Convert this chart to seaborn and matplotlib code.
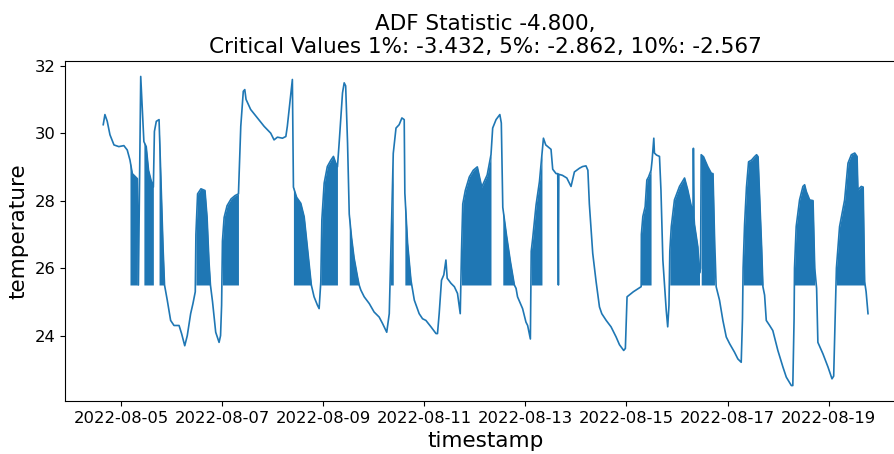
import numpy as np
import pandas as pd
import matplotlib
matplotlib.use("Agg")
import matplotlib.pyplot as plt
import seaborn as sns

# ADF test summary shown in the title
adf_statistic = -4.800
critical_levels = ["1%", "5%", "10%"]
critical_values = [-3.432, -2.862, -2.567]

# Sensor readings: hours after 2022-08-04 00:00 and temperature
start_time = "2022-08-04 00:00"
hours = [15.6, 16.4, 17.5, 18.8, 20.7, 23.0, 25.4, 27.0, 28.3, 29.4, 31.0, 31.8, 32.3, 33.4, 34.9, 36.0,
         37.1, 38.3, 39.4, 39.9, 40.8, 42.1, 43.0, 44.0, 44.7, 46.0, 47.6, 49.2, 51.6, 52.8, 54.3, 55.5,
         57.1, 58.2, 59.3, 59.6, 60.4, 62.0, 63.9, 64.9, 65.8, 66.5, 67.5, 69.0, 70.6, 71.3, 71.8, 72.2,
         73.0, 74.4, 76.3, 78.2, 79.8, 80.9, 82.1, 82.8, 83.4, 85.6, 88.8, 92.0, 95.1, 96.7, 98.3, 100.7,
         102.3, 103.0, 104.2, 105.4, 105.9, 107.4, 109.4, 111.0, 112.5, 113.8, 114.4, 115.7, 117.3, 118.1,
         118.9, 119.4, 120.5, 122.0, 123.7, 124.9, 126.0, 126.8, 127.6, 129.2, 130.0, 130.7, 131.6, 132.4,
         133.5, 134.7, 136.3, 137.1, 137.9, 139.5, 141.9, 144.2, 146.6, 148.2, 150.2, 151.4, 151.8, 152.6,
         153.3, 154.6, 156.1, 157.4, 158.5, 158.8, 160.1, 161.7, 163.3, 165.6, 167.2, 168.8, 171.2, 173.6,
         174.3, 175.1, 176.2, 177.3, 178.3, 178.9, 180.7, 182.3, 183.8, 185.1, 185.7, 186.3, 187.5, 189.4,
         191.3, 193.2, 195.3, 197.9, 199.7, 200.5, 202.1, 203.9, 204.6, 205.3, 207.0, 208.9, 210.8, 211.6,
         212.3, 214.7, 216.3, 217.1, 218.4, 218.8, 219.5, 221.1, 222.7, 223.9, 224.6, 225.7, 228.2, 229.0,
         230.6, 231.4, 231.7, 231.9, 233.6, 235.7, 237.7, 239.3, 241.7, 243.2, 244.8, 245.7, 246.4, 248.0,
         249.6, 251.2, 252.3, 254.4, 256.7, 259.1, 260.7, 262.7, 263.5, 264.3, 267.3, 271.0, 271.1, 271.8,
         272.9, 273.7, 274.5, 275.7, 276.2, 277.0, 277.3, 278.3, 279.7, 280.4, 281.3, 282.9, 283.6, 284.2,
         284.6, 285.3, 286.8, 289.2, 291.6, 293.1, 294.8, 295.6, 295.8, 296.1, 296.3, 297.9, 298.7, 299.2,
         299.5, 300.6, 302.6, 304.3, 305.1, 305.8, 306.6, 308.2, 309.8, 311.4, 313.0, 315.3, 316.9, 318.5,
         319.1, 319.4, 320.1, 321.0, 322.0, 323.4, 324.8, 325.8, 326.5, 327.2, 328.2, 328.8, 329.6, 330.4,
         332.0, 333.5, 335.9, 338.3, 339.9, 342.3, 343.0, 343.6, 343.8, 344.6, 346.2, 347.8, 348.6, 349.4,
         351.0, 352.6, 353.4, 354.3, 354.9, 357.3, 359.7, 361.6, 362.4, 363.1, 363.7, 365.2, 367.6, 369.2,
         370.8, 372.4, 373.5, 373.9, 375.5, 376.4, 377.1, 377.8, 378.7]
temperature = [30.25, 30.55, 30.35, 29.95, 29.65, 29.6, 29.63, 29.5, 29.2, 28.8, 28.7, 28.65, 25.5, 31.68, 29.75, 29.6,
               28.9, 28.6, 28.4, 30.05, 30.35, 30.4, 28.6, 26.6, 25.5, 25.05, 24.45, 24.3, 24.3, 24.06, 23.7, 24.0,
               24.65, 24.95, 25.3, 27.0, 28.2, 28.35, 28.3, 27.5, 26.2, 25.5, 25.0, 24.1, 23.8, 24.0, 24.9, 26.8,
               27.5, 27.85, 28.05, 28.15, 28.2, 30.2, 31.24, 31.29, 31.0, 30.7, 30.45, 30.2, 30.0, 29.8, 29.88, 29.85,
               29.9, 30.2, 30.9, 31.59, 28.4, 28.1, 27.92, 27.52, 26.63, 25.84, 25.5, 25.15, 24.9, 24.8,
               25.6, 27.43, 28.52, 29.01, 29.2, 29.31, 29.11, 29.0, 29.7, 31.19, 31.49, 31.4, 29.7, 27.6,
               26.9, 26.3, 25.75, 25.5, 25.35, 25.15, 24.95, 24.7, 24.55, 24.36, 24.1, 24.65, 25.6, 27.6,
               29.4, 30.15, 30.25, 30.45, 30.4, 28.22, 26.73, 25.64, 25.05, 24.65, 24.5, 24.45, 24.26, 24.06,
               24.06, 24.65, 25.64, 25.8, 26.24, 25.7, 25.55, 25.45, 25.25, 24.65, 26.5, 27.9, 28.3, 28.7,
               28.9, 29.0, 28.4, 28.76, 29.36, 30.15, 30.4, 30.55, 30.3, 27.8, 27.0, 26.2, 25.5, 25.4,
               25.15, 24.8, 24.4, 24.3, 23.9, 26.5, 26.88, 27.87, 28.56, 29.36, 29.85, 29.65, 29.52, 28.93,
               28.8, 28.8, 25.5, 28.78, 28.75, 28.67, 28.42, 28.85, 28.96, 29.01, 29.03, 28.9, 27.9, 26.44,
               25.6, 24.85, 24.65, 24.45, 24.26, 23.96, 23.73, 23.56, 23.62, 25.15, 25.3, 25.45, 27.0, 27.53,
               27.82, 28.61, 28.7, 28.9, 29.2, 29.85, 29.41, 29.35, 29.31, 28.3, 26.24, 24.75, 24.26, 24.9,
               26.5, 27.23, 28.02, 28.42, 28.67, 28.32, 27.82, 27.6, 29.55, 27.5, 27.3, 26.63, 25.85, 26.0,
               29.36, 29.3, 29.01, 28.81, 28.8, 27.0, 25.45, 25.05, 24.45, 23.96, 23.76, 23.51, 23.31, 23.21,
               24.5, 26.0, 27.3, 28.4, 29.15, 29.2, 29.3, 29.36, 29.3, 28.2, 26.6, 25.45, 25.2, 24.45,
               24.3, 24.15, 23.56, 23.07, 22.77, 22.52, 22.52, 24.5, 26.0, 27.23, 28.02, 28.42, 28.47, 28.27,
               28.02, 28.0, 26.0, 25.4, 23.8, 23.46, 23.07, 22.72, 22.8, 24.5, 26.0, 27.23, 28.02, 29.11,
               29.36, 29.41, 29.31, 28.32, 28.42, 28.4, 25.6, 25.3, 24.65]

# Periods in which the sensor keeps dropping to its fallback reading
fallback_reading = 25.5
dropout_spans = [(28.3, 31.8), (34.9, 39.4), (42.1, 44.7), (59.6, 66.5), (72.2, 79.8),
                 (105.9, 114.4), (118.9, 126.8), (132.4, 137.1), (151.8, 153.3), (158.8, 161.7),
                 (185.7, 199.7), (205.3, 210.8), (218.8, 223.9), (271.1, 275.7), (284.6, 298.7),
                 (299.5, 305.8), (319.4, 328.8), (343.8, 353.4), (363.7, 377.1)]

tick_dates = ["2022-08-05", "2022-08-07", "2022-08-09", "2022-08-11",
              "2022-08-13", "2022-08-15", "2022-08-17", "2022-08-19"]

hours_arr = np.array(hours)
temp_arr = np.array(temperature)
timestamps = pd.Timestamp(start_time) + pd.to_timedelta(hours_arr, unit="h")
df = pd.DataFrame({"timestamp": timestamps, "temperature": temp_arr})

line_color = "#1f77b4"

fig = plt.figure(figsize=(8.94, 4.54), dpi=100)
ax = fig.add_axes([0.0727, 0.1167, 0.941, 0.749])

for start, end in dropout_spans:
    mask = (hours_arr >= start) & (hours_arr <= end)
    ax.fill_between(df["timestamp"][mask], fallback_reading, df["temperature"][mask],
                    color=line_color, linewidth=0)

sns.lineplot(data=df, x="timestamp", y="temperature", ax=ax, color=line_color,
             linewidth=1.2, estimator=None, sort=False)

ticks = pd.to_datetime(tick_dates)
ax.set_xticks(ticks)
ax.set_xticklabels(tick_dates, fontsize=11.8)
ax.set_yticks([24, 26, 28, 30, 32])
ax.tick_params(axis="y", labelsize=11.8)
ax.set_xlabel("timestamp", fontsize=15.5)
ax.set_ylabel("temperature", fontsize=15.5)

crit_text = ", ".join(f"{lvl}: {val:.3f}" for lvl, val in zip(critical_levels, critical_values))
ax.set_title(f"ADF Statistic {adf_statistic:.3f},\nCritical Values {crit_text}",
             fontsize=15.5, linespacing=1.15, pad=6)

fig.savefig("out.png", dpi=100)
